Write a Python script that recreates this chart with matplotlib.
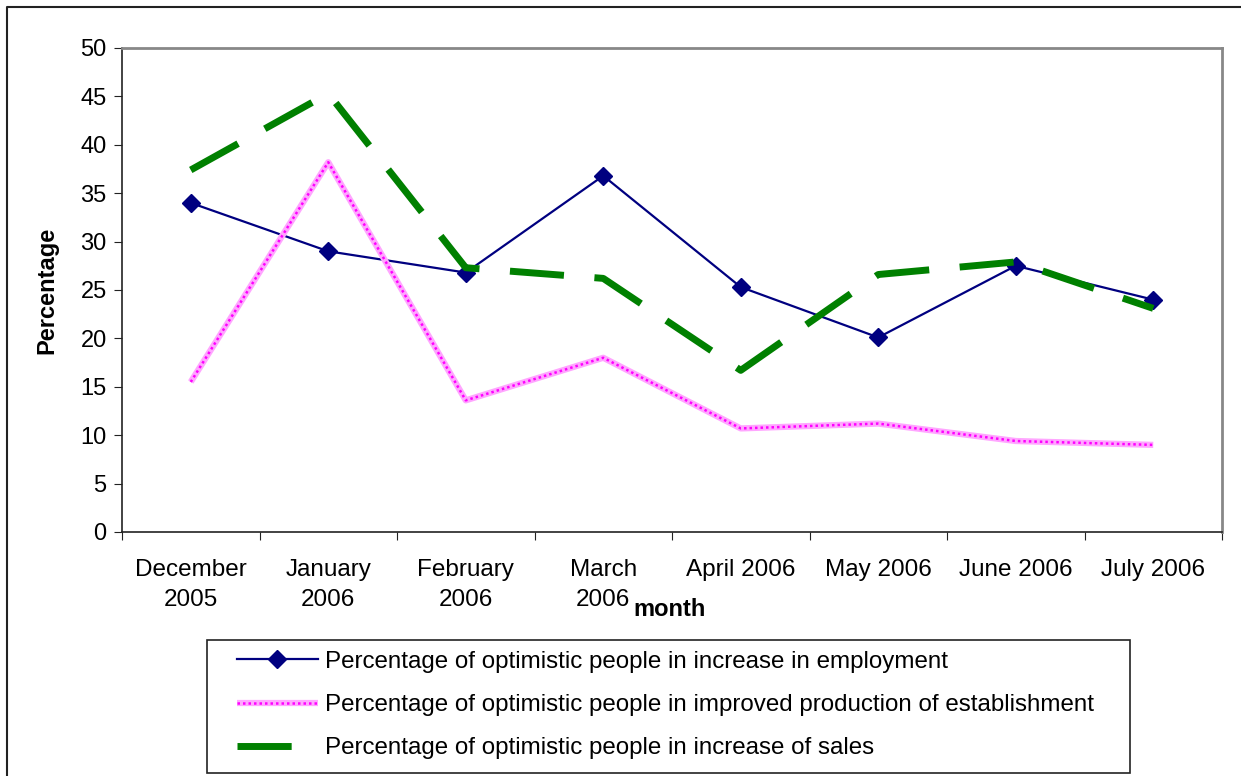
import matplotlib
matplotlib.use("Agg")
import matplotlib.pyplot as plt
from matplotlib.lines import Line2D
from matplotlib.patches import Rectangle
from matplotlib.legend_handler import HandlerTuple

plt.rcParams['font.family'] = ['Liberation Sans', 'DejaVu Sans']

months = ["December\n2005", "January\n2006", "February\n2006", "March\n2006",
          "April 2006", "May 2006", "June 2006", "July 2006"]
employment = [34.0, 29.0, 26.8, 36.8, 25.3, 20.1, 27.5, 24.0]
production = [15.5, 38.2, 13.6, 18.0, 10.7, 11.2, 9.4, 9.0]
sales = [37.4, 45.3, 27.3, 26.2, 16.7, 26.6, 27.9, 23.1]
labels = ["Percentage of optimistic people in increase in employment",
          "Percentage of optimistic people in improved production of establishment",
          "Percentage of optimistic people in increase of sales"]

W, H = 1241, 776
fig = plt.figure(figsize=(W / 100, H / 100), dpi=100)
ax = fig.add_axes([122 / W, 1 - 532 / H, 1100 / W, 484 / H])

x = list(range(len(months)))
l1, = ax.plot(x, employment, color='#000080', lw=1.6, marker='D', markersize=9,
              markerfacecolor='#000080', markeredgecolor='#000080', zorder=3)
p_base, = ax.plot(x, production, color='#ffa6ff', lw=4.5, solid_capstyle='butt', zorder=4)
p_dot, = ax.plot(x, production, color='#ff00ff', lw=1.8, linestyle=(0, (1, 1.2)), zorder=4.1)
l3, = ax.plot(x, sales, color='#008000', lw=5, linestyle=(0, (7.8, 4.4)),
              dash_capstyle='butt', zorder=5)

ax.set_xlim(-0.5, 7.5)
ax.set_ylim(0, 50)
ax.set_yticks(range(0, 51, 5))
ax.set_xticks([i - 0.5 for i in range(9)])
ax.set_xticklabels([])
ax.set_xticks(x, minor=True)
ax.set_xticklabels(months, minor=True, fontsize=17.5, linespacing=1.45)
ax.tick_params(axis='x', which='minor', length=0, pad=19.5)
ax.tick_params(axis='x', which='major', length=6, direction='out', color='#222222')
ax.tick_params(axis='y', length=6, direction='out', labelsize=17, pad=5, color='#222222')

for s in ['top', 'right']:
    ax.spines[s].set_color('#888888')
    ax.spines[s].set_linewidth(2)
for s in ['left', 'bottom']:
    ax.spines[s].set_color('#222222')
    ax.spines[s].set_linewidth(1.2)

fig.text(47 / W, 1 - 290 / H, "Percentage", rotation=90, fontsize=17,
         fontweight='bold', ha='center', va='center')
fig.text(670 / W, 1 - 610 / H, "month", fontsize=17, fontweight='bold',
         ha='center', va='center')

# figure border (top and left)
fig.add_artist(Line2D([7 / W, 7 / W, 1], [0, 1 - 7 / H, 1 - 7 / H],
                      transform=fig.transFigure, color='#222222', lw=1.5))

# legend frame
fig.add_artist(Rectangle((207 / W, 1 - 773 / H), (1130 - 207) / W, (773 - 640) / H,
                         transform=fig.transFigure, fill=False,
                         edgecolor='#222222', lw=1.2))

leg = fig.legend([l1, (p_base, p_dot), l3], labels,
                 handler_map={tuple: HandlerTuple(ndivide=1, pad=0)},
                 loc='center left', bbox_to_anchor=(237 / W, 1 - 705 / H),
                 fontsize=17.4, frameon=False,
                 handlelength=3.35, handletextpad=0.3, labelspacing=0.88,
                 borderpad=0, borderaxespad=0)

fig.savefig("out.png", dpi=100)
